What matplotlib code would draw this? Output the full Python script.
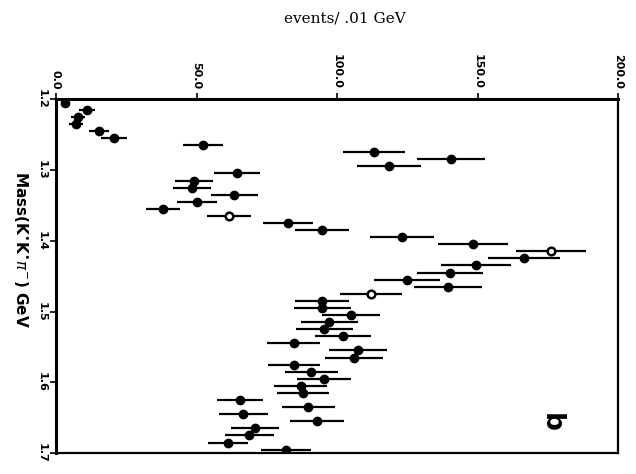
import matplotlib.pyplot as plt
import numpy as np

# mass bins (GeV), 0.01 GeV wide
mass = np.arange(1.205, 1.70, 0.01)

# events per bin
events = [3.2, 11.1, 7.8, 7.1, 15.3, 20.7, 52.4, 113.0, 140.5, 118.4,
          64.5, 49.2, 48.5, 63.5, 50.3, 38.1, 61.7, 82.7, 94.8, 123.0,
          148.3, 176.1, 166.5, 149.4, 140.1, 124.8, 139.4, 112.0, 94.8, 94.8,
          104.8, 97.3, 95.5, 102.0, 84.5, 107.3, 105.9, 84.8, 90.9, 95.2,
          87.0, 88.0, 65.6, 89.8, 66.7, 93.0, 70.9, 68.8, 61.3, 82.0]
errors = [1.3, 2.9, 2.5, 2.5, 3.6, 4.6, 7.1, 11.0, 12.1, 11.4,
          8.2, 6.8, 6.8, 8.2, 7.1, 6.1, 7.8, 8.9, 9.6, 11.4,
          12.5, 12.5, 12.8, 12.5, 11.8, 11.8, 12.1, 11.0, 9.6, 10.0,
          10.3, 10.0, 10.0, 10.0, 9.3, 10.3, 10.3, 9.3, 9.6, 9.6,
          9.3, 9.3, 8.2, 9.3, 8.6, 9.6, 8.6, 8.6, 7.1, 8.9]
# bins drawn with open markers
open_bins = [16, 21, 27]

x_ticks = [0, 50, 100, 150, 200]
x_labels = ['0.0', '50.0', '100.0', '150.0', '200.0']
y_ticks = [1.2, 1.3, 1.4, 1.5, 1.6, 1.7]
y_labels = ['1.2', '1.3', '1.4', '1.5', '1.6', '1.7']

fig = plt.figure(figsize=(6.36, 4.74), dpi=100)
ax = fig.add_axes([0.088, 0.044, 0.884, 0.747])

events = np.array(events)
errors = np.array(errors)
filled = np.array([i not in open_bins for i in range(len(events))])

ax.errorbar(events, mass, xerr=errors, fmt='none', ecolor='black',
            elinewidth=1.6, capsize=0)
ax.plot(events[filled], mass[filled], 'o', color='black', markersize=6)
ax.plot(events[~filled], mass[~filled], 'o', markerfacecolor='white',
        markeredgecolor='black', markeredgewidth=1.8, markersize=5.5)

ax.set_xlim(0, 200)
ax.set_ylim(1.7, 1.2)
ax.xaxis.tick_top()
ax.set_xticks(x_ticks)
ax.set_xticklabels(x_labels, rotation=-90, fontsize=8, fontweight='bold',
                   family='DejaVu Sans')
ax.set_yticks(y_ticks)
ax.set_yticklabels(y_labels, rotation=-90, fontsize=8, fontweight='bold',
                   va='center', family='DejaVu Sans')
ax.tick_params(direction='out', length=4, width=1.2, pad=3)

for side in ['top', 'left']:
    ax.spines[side].set_linewidth(2.2)
for side in ['bottom', 'right']:
    ax.spines[side].set_linewidth(1.6)

ax.set_ylabel('Mass(K$^{\\bullet}$K$^{\\bullet}\\pi^{-}$) GeV', rotation=-90,
              fontsize=11, fontweight='bold', family='DejaVu Sans',
              va='center', ha='center')
ax.yaxis.set_label_coords(-0.062, 0.575)

fig.text(0.543, 0.962, 'events/ .01 GeV', ha='center', va='center',
         fontsize=11, family='DejaVu Serif')

ax.text(176, 1.657, 'b', rotation=-90, fontsize=19, ha='center',
        va='center', family='DejaVu Sans', fontweight='bold')

plt.savefig('out.png', dpi=100)
